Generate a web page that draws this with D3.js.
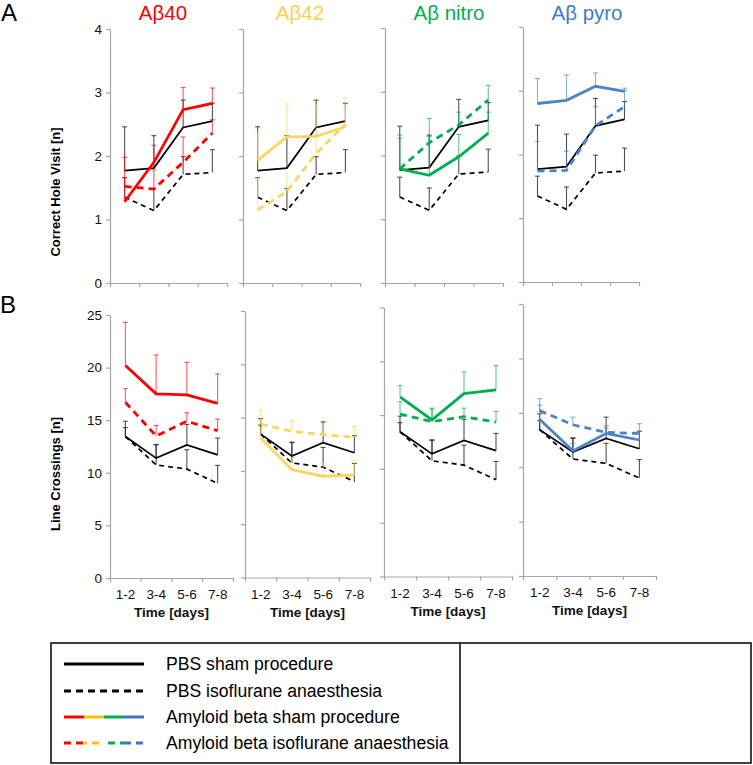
<!DOCTYPE html>
<html><head><meta charset="utf-8">
<script src="https://cdn.jsdelivr.net/npm/d3@7"></script>
<style>
body{margin:0;background:#fff}
svg{display:block}
text{font-family:"Liberation Sans",Arial,Helvetica,sans-serif}
</style>
</head><body>
<svg id="chart" width="753" height="765"></svg>
<script>
// ---------- data ----------
const timeLabels = ["1-2", "3-4", "5-6", "7-8"];
const groupNames = ["Aβ40", "Aβ42", "Aβ nitro", "Aβ pyro"];
const holeTicks = [0, 1, 2, 3, 4];
const crossTicks = [0, 5, 10, 15, 20, 25];

// Correct hole visit [n] (panel A) — PBS controls (same in every panel)
const pbsShamHole = [1.77, 1.81, 2.45, 2.55];
const pbsShamHoleErr = [0.69, 0.51, 0.43, 0.28];
const pbsIsoHole = [1.35, 1.14, 1.71, 1.74];
const pbsIsoHoleErr = [0.31, 0.35, 0.28, 0.36];
// Amyloid beta groups, one row per group (Aβ40, Aβ42, Aβ nitro, Aβ pyro)
const abShamHole = [
  [1.28, 1.90, 2.73, 2.83],
  [1.93, 2.30, 2.31, 2.46],
  [1.79, 1.69, 1.98, 2.35],
  [2.80, 2.85, 3.07, 2.99]
];
const abShamHoleErr = [
  [0.70, 0.27, 0.35, 0.24],
  [0.45, 0.52, 0.50, 0.45],
  [0.48, 0.89, 0.35, 0.33],
  [0.39, 0.40, 0.21, 0.05]
];
const abIsoHole = [
  [1.52, 1.48, 1.90, 2.36],
  [1.15, 1.44, 2.04, 2.50],
  [1.79, 2.20, 2.48, 2.87],
  [1.74, 1.75, 2.45, 2.75]
];
const abIsoHoleErr = [
  [0.14, 0.30, 0.40, 0.21],
  [0.50, 0.29, 0.35, 0.23],
  [0.53, 0.10, 0.20, 0.23],
  [0.46, 0.30, 0.30, 0.25]
];

// Line crossings [n] (panel B)
const pbsShamCross = [13.45, 11.4, 12.65, 11.7];
const pbsShamCrossErr = [1.45, 1.3, 1.95, 1.6];
const pbsIsoCross = [13.45, 10.75, 10.35, 9.0];
const pbsIsoCrossErr = [0.85, 1.9, 1.85, 1.7];
const abShamCross = [
  [20.2, 17.5, 17.4, 16.6],
  [13.1, 10.1, 9.5, 9.6],
  [16.7, 14.55, 17.0, 17.35],
  [14.4, 11.5, 13.1, 12.5]
];
const abShamCrossErr = [
  [4.1, 3.7, 3.1, 2.8],
  [1.0, 0.9, 1.2, 1.4],
  [1.05, 1.1, 2.0, 2.25],
  [1.3, 0.7, 0.5, 0.8]
];
const abIsoCross = [
  [16.7, 13.5, 14.9, 14.0],
  [14.4, 13.7, 13.4, 13.15],
  [15.1, 14.4, 14.85, 14.35],
  [15.2, 13.9, 13.2, 13.1]
];
const abIsoCrossErr = [
  [1.3, 1.0, 0.8, 1.1],
  [1.3, 1.0, 1.0, 1.0],
  [1.15, 1.15, 0.8, 1.0],
  [1.1, 0.7, 0.6, 0.9]
];

const legendLabels = [
  "PBS sham procedure",
  "PBS isoflurane anaesthesia",
  "Amyloid beta sham procedure",
  "Amyloid beta isoflurane anaesthesia"
];

// ---------- styles & layout ----------
const lineColors = ["#ff0000", "#fdd55e", "#00b050", "#4d83c8"];
const titleColors = ["#ff0000", "#fdd04e", "#00b050", "#3a7dc9"];
const legendColors = ["#ff0000", "#ffc000", "#00b050", "#4472c4"];
const axisColor = "#a6a6a6";

const layoutA = [
  {xL: 110, xR: 227, y0: 283, yT: 29, tx: 163},
  {xL: 243, xR: 360, y0: 283, yT: 29, tx: 300},
  {xL: 385, xR: 503, y0: 283, yT: 28, tx: 449},
  {xL: 523, xR: 639, y0: 282, yT: 27, tx: 587}
];
const layoutB = [
  {xL: 110, xR: 233, y0: 578, yT: 315},
  {xL: 245, xR: 370, y0: 577.5, yT: 311},
  {xL: 384, xR: 512, y0: 576.5, yT: 307.5},
  {xL: 523, xR: 656, y0: 576, yT: 304}
];

const svg = d3.select("#chart");

function drawPanel(L, domainMax, ticks, showYLabels, showXLabels, series) {
  const g = svg.append("g");
  const y = d3.scaleLinear().domain([0, domainMax]).range([L.y0, L.yT]);
  const xb = d3.scaleBand().domain(timeLabels).range([L.xL, L.xR]);
  const xt = d3.scaleLinear().domain([0, 4]).range([L.xL, L.xR]);
  const cx = d => xb(d) + xb.bandwidth() / 2;

  // y axis
  const ya = g.append("g").attr("transform", `translate(${L.xL},0)`)
    .call(d3.axisLeft(y).tickValues(ticks).tickSize(4).tickSizeOuter(0).tickPadding(4)
      .tickFormat(showYLabels ? d3.format("d") : () => ""));
  // x axis (ticks at category boundaries)
  const xa = g.append("g").attr("transform", `translate(0,${L.y0})`)
    .call(d3.axisBottom(xt).tickValues([0, 1, 2, 3, 4]).tickSize(4).tickSizeOuter(0).tickFormat(() => ""));
  [ya, xa].forEach(a => {
    a.selectAll("path,line").attr("stroke", axisColor).attr("stroke-width", 1.2);
    a.selectAll("text").attr("fill", "#111").attr("font-size", 13.5);
  });

  if (showXLabels) {
    const lab = g.append("g").attr("transform", `translate(0,${L.y0 + 21})`)
      .call(d3.axisBottom(xb).tickSize(0).tickPadding(0));
    lab.select(".domain").remove();
    lab.selectAll("text").attr("fill", "#111").attr("font-size", 13.5).attr("dy", 0);
    g.append("text").attr("x", (L.xL + L.xR) / 2).attr("y", L.y0 + 39)
      .attr("text-anchor", "middle").attr("font-size", 13.5).attr("font-weight", "bold")
      .attr("fill", "#111").text("Time [days]");
  }

  const line = d3.line().x((d, i) => cx(timeLabels[i])).y(d => y(d));
  series.forEach(s => {
    // error bars (upper only)
    const eb = g.append("g").attr("stroke", s.errColor).attr("stroke-width", 1.1)
      .attr("stroke-opacity", s.errOpacity);
    s.values.forEach((v, i) => {
      const px = cx(timeLabels[i]);
      const top = y(v + s.err[i]);
      eb.append("line").attr("x1", px).attr("x2", px).attr("y1", y(v)).attr("y2", top);
      eb.append("line").attr("x1", px - 2.5).attr("x2", px + 2.5).attr("y1", top).attr("y2", top);
    });
    g.append("path").datum(s.values).attr("d", line).attr("fill", "none")
      .attr("stroke", s.color).attr("stroke-width", s.width)
      .attr("stroke-dasharray", s.dash || null);
  });
}

function makeSeries(gi, pbsS, pbsSE, pbsI, pbsIE, abS, abSE, abI, abIE) {
  return [
    {values: pbsI, err: pbsIE, color: "#000", width: 1.7, dash: "5,4", errColor: "#333", errOpacity: 0.85},
    {values: pbsS, err: pbsSE, color: "#000", width: 1.7, errColor: "#333", errOpacity: 0.85},
    {values: abI[gi], err: abIE[gi], color: lineColors[gi], width: 2.8, dash: "7,5", errColor: lineColors[gi], errOpacity: 0.65},
    {values: abS[gi], err: abSE[gi], color: lineColors[gi], width: 2.8, errColor: lineColors[gi], errOpacity: 0.65}
  ];
}

groupNames.forEach((name, gi) => {
  const LA = layoutA[gi];
  drawPanel(LA, 4, holeTicks, gi === 0, false,
    makeSeries(gi, pbsShamHole, pbsShamHoleErr, pbsIsoHole, pbsIsoHoleErr,
      abShamHole, abShamHoleErr, abIsoHole, abIsoHoleErr));
  svg.append("text").attr("x", LA.tx).attr("y", 20).attr("text-anchor", "middle")
    .attr("font-size", 20.5).attr("fill", titleColors[gi]).text(name);

  drawPanel(layoutB[gi], 25, crossTicks, gi === 0, true,
    makeSeries(gi, pbsShamCross, pbsShamCrossErr, pbsIsoCross, pbsIsoCrossErr,
      abShamCross, abShamCrossErr, abIsoCross, abIsoCrossErr));
});

// panel letters
svg.append("text").attr("x", 1).attr("y", 21).attr("font-size", 24).attr("fill", "#000").text("A");
svg.append("text").attr("x", 0).attr("y", 313).attr("font-size", 24).attr("fill", "#000").text("B");

// y-axis titles
svg.append("text").attr("transform", "translate(60,192) rotate(-90)").attr("text-anchor", "middle")
  .attr("font-size", 13).attr("font-weight", "bold").attr("fill", "#000").text("Correct Hole Visit [n]");
svg.append("text").attr("transform", "translate(60,474) rotate(-90)").attr("text-anchor", "middle")
  .attr("font-size", 13).attr("font-weight", "bold").attr("fill", "#000").text("Line Crossings [n]");

// ---------- legend ----------
const lg = svg.append("g");
lg.append("rect").attr("x", 51).attr("y", 643).attr("width", 700).attr("height", 120)
  .attr("fill", "none").attr("stroke", "#000").attr("stroke-width", 1.5);
lg.append("line").attr("x1", 460).attr("x2", 460).attr("y1", 643).attr("y2", 763)
  .attr("stroke", "#000").attr("stroke-width", 1.5);
const rowY = [664, 691, 717, 743];
const lx0 = 64, lx1 = 144;
lg.append("line").attr("x1", lx0).attr("x2", lx1).attr("y1", rowY[0]).attr("y2", rowY[0])
  .attr("stroke", "#000").attr("stroke-width", 3);
lg.append("line").attr("x1", lx0).attr("x2", lx1).attr("y1", rowY[1]).attr("y2", rowY[1])
  .attr("stroke", "#000").attr("stroke-width", 3).attr("stroke-dasharray", "7,5");
const segW = (lx1 - lx0) / legendColors.length;
legendColors.forEach((c, i) => {
  lg.append("line").attr("x1", lx0 + i * segW).attr("x2", lx0 + (i + 1) * segW)
    .attr("y1", rowY[2]).attr("y2", rowY[2]).attr("stroke", c).attr("stroke-width", 3);
  lg.append("line").attr("x1", lx0 + i * segW).attr("x2", lx0 + (i + 1) * segW)
    .attr("y1", rowY[3]).attr("y2", rowY[3]).attr("stroke", c).attr("stroke-width", 3)
    .attr("stroke-dasharray", "7,5").attr("stroke-dashoffset", -(i * segW) % 12);
});
legendLabels.forEach((t, i) => {
  lg.append("text").attr("x", 166).attr("y", rowY[i]).attr("dy", "0.35em")
    .attr("font-size", 17.6).attr("fill", "#000").text(t);
});
</script>
</body></html>
